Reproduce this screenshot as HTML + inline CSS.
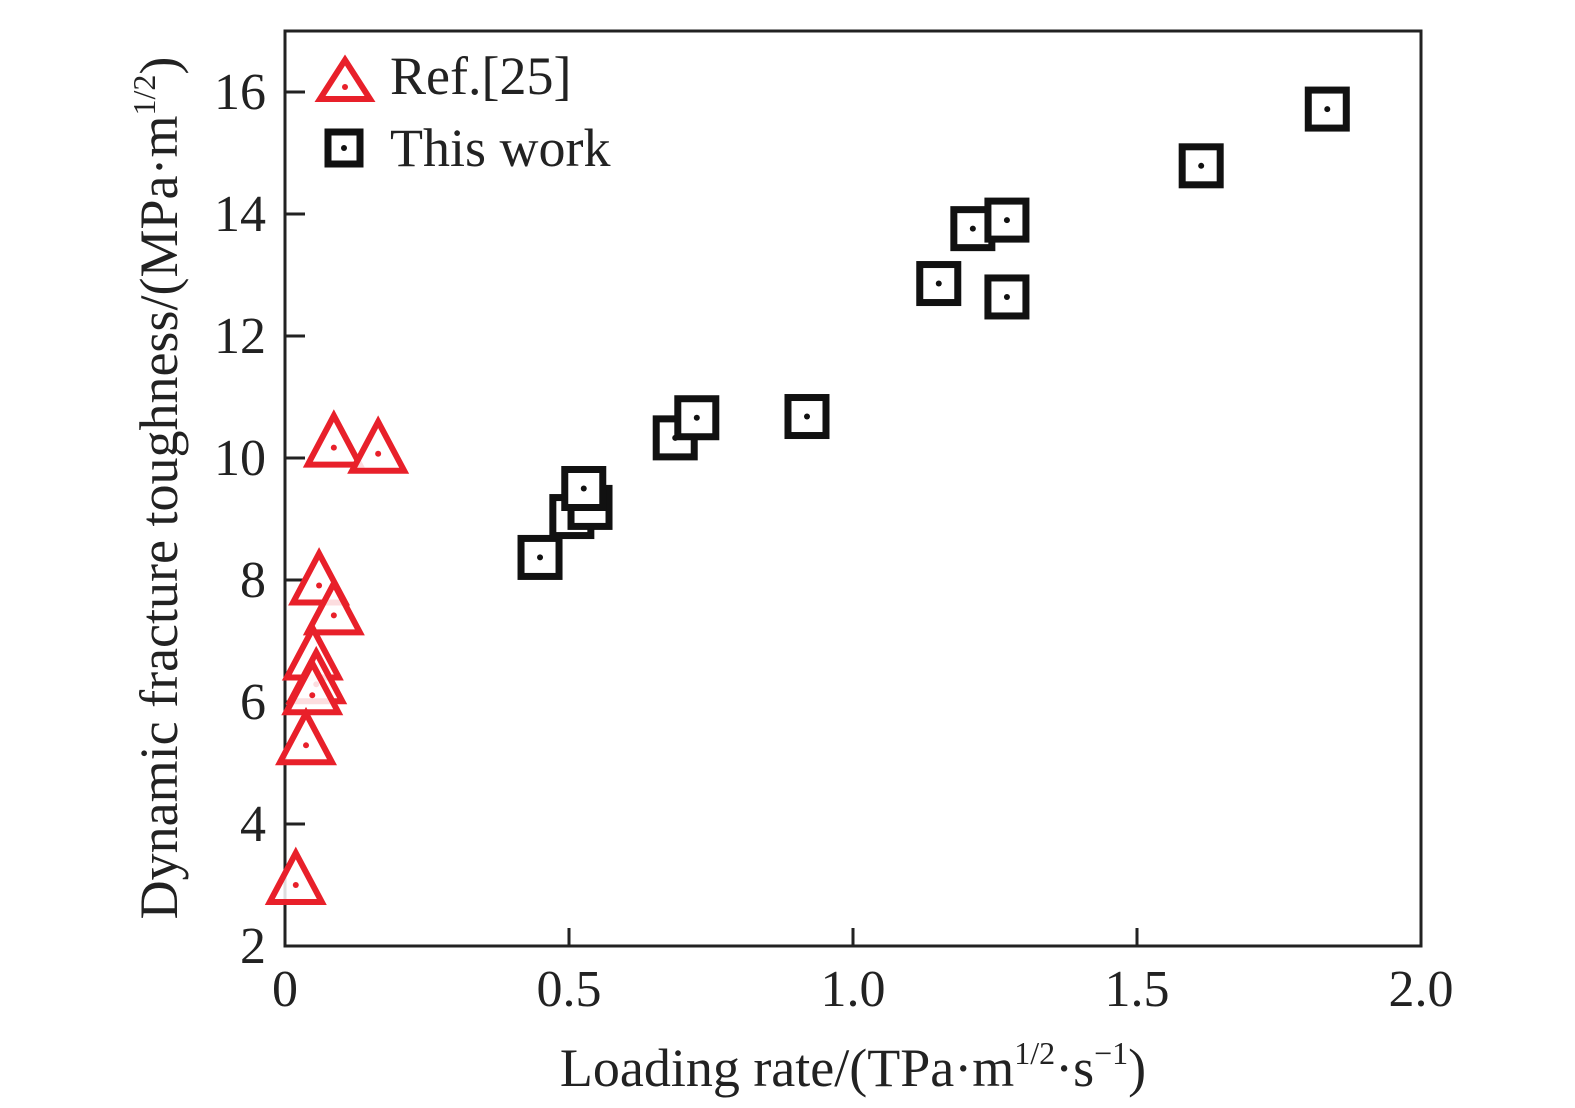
<!DOCTYPE html>
<html><head><meta charset="utf-8"><style>
html,body{margin:0;padding:0;background:#fff}
svg{display:block}
text{font-family:"Liberation Serif",serif;fill:#222}
</style></head><body>
<svg id="chart" width="1575" height="1108" viewBox="0 0 1575 1108" xmlns="http://www.w3.org/2000/svg">
<rect x="285" y="31" width="1136" height="915" fill="none" stroke="#222" stroke-width="3"/>
<g id="ticks"></g>
<g id="marks"></g>
<text x="853" y="1086" font-size="54" text-anchor="middle">Loading rate/(TPa·m<tspan font-size="32" dy="-22">1/2</tspan><tspan dy="22">·s</tspan><tspan font-size="32" dy="-22">−1</tspan><tspan dy="22">)</tspan></text>
<text transform="translate(177,488) rotate(-90)" font-size="54" text-anchor="middle">Dynamic fracture toughness/(MPa·m<tspan font-size="32" dy="-22">1/2</tspan><tspan dy="22">)</tspan></text>
<g>
<g>
<polygon points="345,60 370,99 320,99" fill="#fff" stroke="#e8202a" stroke-width="6"/>
<circle cx="345" cy="87" r="3" fill="#e8202a"/>
<text x="390" y="94" font-size="54">Ref.[25]</text>
</g>
<g>
<rect x="328" y="132" width="32" height="32" fill="#fff" stroke="#111" stroke-width="7"/>
<circle cx="344" cy="148" r="3" fill="#111"/>
<text x="390" y="166" font-size="54">This work</text>
</g>
</g>
</svg>
<script>
const xTicks=[0,0.5,1.0,1.5,2.0];
const xTickLabels=["0","0.5","1.0","1.5","2.0"];
const yTicks=[2,4,6,8,10,12,14,16];
const yTickLabels=["2","4","6","8","10","12","14","16"];
const refX=[0.086,0.164,0.060,0.086,0.049,0.055,0.048,0.037,0.019];
const refY=[10.17,10.07,7.91,7.42,6.68,6.29,6.11,5.29,3.00];
const workX=[0.449,0.505,0.537,0.526,0.687,0.725,0.919,1.151,1.211,1.271,1.271,1.613,1.835];
const workY=[8.37,9.04,9.19,9.50,10.33,10.66,10.68,12.86,13.76,13.90,12.64,14.79,15.72];
const X0=285,X1=1421,Y0=946,Y1=31;
function sx(v){return X0+(v-0)/(2-0)*(X1-X0);}
function sy(v){return Y0-(v-2)/(17-2)*(Y0-Y1);}
const NS="http://www.w3.org/2000/svg";
const tg=document.getElementById('ticks');
function mk(tag,attrs,parent){const e=document.createElementNS(NS,tag);for(const k in attrs)e.setAttribute(k,attrs[k]);parent.appendChild(e);return e;}
xTicks.forEach((v,i)=>{
  const l=mk('line',{x1:sx(v),x2:sx(v),y1:Y0,y2:Y0-18,stroke:'#222','stroke-width':3},tg);
  
  
  const t=mk('text',{x:sx(v),y:1006,'font-size':52,'text-anchor':'middle'},tg);
  t.textContent=xTickLabels[i];
  
  
});
yTicks.forEach((v,i)=>{
  const l=mk('line',{x1:X0,x2:X0+20,y1:sy(v),y2:sy(v),stroke:'#222','stroke-width':3},tg);
  
  
  const t=mk('text',{x:266,y:sy(v)+17,'font-size':52,'text-anchor':'end'},tg);
  t.textContent=yTickLabels[i];
  
  
});
const mg=document.getElementById('marks');
refX.forEach((v,i)=>{
  const cx=sx(v),cy=sy(refY[i]);
  const p=mk('polygon',{points:`${cx},${cy-32} ${cx+26},${cy+17} ${cx-26},${cy+17}`,fill:'#fff','fill-opacity':0.85,stroke:'#e8202a','stroke-width':6},mg);
  
  
  const d=mk('circle',{cx:cx,cy:cy,r:3,fill:'#e8202a'},mg);
  
  
});
workX.forEach((v,i)=>{
  const cx=sx(v),cy=sy(workY[i]);
  const r=mk('rect',{x:cx-19,y:cy-19,width:38,height:38,fill:'#fff',stroke:'#111','stroke-width':7},mg);
  
  
  const d=mk('circle',{cx:cx,cy:cy,r:3,fill:'#111'},mg);
  
  
});
</script>
</body></html>
